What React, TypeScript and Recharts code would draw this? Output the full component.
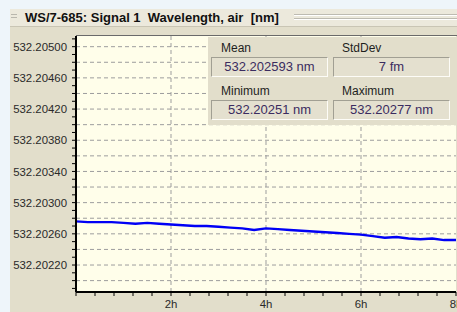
import React from 'react';
import { LineChart, Line, XAxis, YAxis, CartesianGrid } from 'recharts';

// elapsed time in hours
const hours = [
  0, 0.25, 0.5, 0.75, 1, 1.25, 1.5, 1.75, 2, 2.25, 2.5, 2.75, 3, 3.25, 3.5, 3.75, 4,
  4.25, 4.5, 4.75, 5, 5.25, 5.5, 5.75, 6, 6.25, 6.5, 6.75, 7, 7.25, 7.5, 7.75, 8,
];

// wavelength, air [nm]
const wavelength = [
  532.20276, 532.20275, 532.20275, 532.20275, 532.20274, 532.20273, 532.20274, 532.20273,
  532.20272, 532.20271, 532.20270, 532.20270, 532.20269, 532.20268, 532.20267, 532.20265,
  532.20267, 532.20266, 532.20265, 532.20264, 532.20263, 532.20262, 532.20261, 532.2026,
  532.20259, 532.20257, 532.20255, 532.20256, 532.20254, 532.20253, 532.20254, 532.20252,
  532.20252,
];

const yTicks = [
  532.2019, 532.202, 532.2021, 532.2022, 532.2023, 532.2024, 532.2025, 532.2026, 532.2027,
  532.2028, 532.2029, 532.203, 532.2031, 532.2032, 532.2033, 532.2034, 532.2035, 532.2036,
  532.2037, 532.2038, 532.2039, 532.204, 532.2041, 532.2042, 532.2043, 532.2044, 532.2045,
  532.2046, 532.2047, 532.2048, 532.2049, 532.205, 532.2051,
];
const yLabels = [
  '532.20220', '532.20260', '532.20300', '532.20340', '532.20380', '532.20420', '532.20460',
  '532.20500',
];
const yGrid = [
  532.202, 532.2022, 532.2024, 532.2026, 532.2028, 532.203, 532.2032, 532.2034, 532.2036,
  532.2038, 532.204, 532.2042, 532.2044, 532.2046, 532.2048, 532.205,
];

const xTicks = [
  0, 0.4, 0.8, 1.2, 1.6, 2, 2.4, 2.8, 3.2, 3.6, 4, 4.4, 4.8, 5.2, 5.6, 6, 6.4, 6.8, 7.2, 7.6, 8,
];
const xLabels: Record<string, string> = { '2': '2h', '4': '4h', '6': '6h', '8': '8h' };
const xGrid = [2, 4, 6];

const stats = [
  { name: 'Mean', value: '532.202593 nm' },
  { name: 'StdDev', value: '7 fm' },
  { name: 'Minimum', value: '532.20251 nm' },
  { name: 'Maximum', value: '532.20277 nm' },
];

const data = hours.map((t, i) => ({ t, wl: wavelength[i] }));

const FONT = '"Liberation Sans", Arial, sans-serif';

const YTick = ({ x, y, payload }: any) => {
  const label = payload.value.toFixed(5);
  if (!yLabels.includes(label)) return null;
  return (
    <text x={x} y={y} dy="0.36em" textAnchor="end" fontSize={11.4} fontFamily={FONT} fill="#2a2a2a">
      {label}
    </text>
  );
};

const XTick = ({ x, y, payload }: any) => {
  const label = xLabels[String(payload.value)];
  if (!label) return null;
  return (
    <text x={x} y={y} dy="0.71em" textAnchor="middle" fontSize={11.4} fontFamily={FONT} fill="#2a2a2a">
      {label}
    </text>
  );
};

const sunken: React.CSSProperties = {
  position: 'absolute',
  height: 20,
  width: 117,
  boxSizing: 'border-box',
  borderTop: '1px solid #a19f93',
  borderLeft: '1px solid #a19f93',
  borderBottom: '1px solid #fdfcf7',
  borderRight: '1px solid #fdfcf7',
  background: '#e4e0cf',
  textAlign: 'center',
  fontFamily: FONT,
  fontSize: 13,
  lineHeight: '18px',
  color: '#3b2c60',
};

export default function App() {
  return (
    <div
      style={{
        position: 'absolute',
        left: 0,
        top: 0,
        width: 457,
        height: 312,
        overflow: 'hidden',
        background: '#eef5fa',
      }}
    >
      {/* window panel */}
      <div style={{ position: 'absolute', left: 10, top: 9, width: 447, height: 303, background: '#e2decb' }} />
      {/* title bar */}
      <div
        style={{
          position: 'absolute',
          left: 10,
          top: 9,
          width: 447,
          height: 17,
          background: '#ece9dc',
          borderBottom: '1px solid #c9c5b4',
        }}
      />
      <div style={{ position: 'absolute', left: 11, top: 14, width: 6, height: 1, background: '#b9b7ad' }} />
      <div style={{ position: 'absolute', left: 11, top: 17, width: 6, height: 1, background: '#b9b7ad' }} />
      <div style={{ position: 'absolute', left: 294, top: 14, width: 163, height: 1, background: '#bdbbb1' }} />
      <div style={{ position: 'absolute', left: 294, top: 15, width: 163, height: 1, background: '#ffffff' }} />
      <div style={{ position: 'absolute', left: 294, top: 18, width: 163, height: 1, background: '#bdbbb1' }} />
      <div style={{ position: 'absolute', left: 294, top: 19, width: 163, height: 1, background: '#ffffff' }} />
      <div
        style={{
          position: 'absolute',
          left: 25,
          top: 9,
          height: 17,
          lineHeight: '17px',
          fontFamily: FONT,
          fontWeight: 'bold',
          fontSize: 13,
          color: '#111',
          whiteSpace: 'pre',
        }}
      >
        {'WS/7-685: Signal 1  Wavelength, air  [nm]'}
      </div>

      <div style={{ position: 'absolute', left: 0, top: 0 }}>
        <LineChart width={457} height={312} data={data} margin={{ top: 36, right: 1, bottom: 0, left: 10 }}>
          <CartesianGrid
            fill="#fffeea"
            stroke="#9d9d9d"
            strokeDasharray="4 3"
            horizontalValues={yGrid}
            verticalValues={xGrid}
          />
          <XAxis
            dataKey="t"
            type="number"
            domain={[0, 8]}
            ticks={xTicks}
            interval={0}
            height={20}
            tickSize={4}
            tickMargin={4}
            axisLine={{ stroke: '#000', strokeWidth: 2 }}
            tickLine={{ stroke: '#000' }}
            tick={<XTick />}
          />
          <YAxis
            type="number"
            domain={[532.201854, 532.205137]}
            ticks={yTicks}
            interval={0}
            width={66}
            tickSize={4}
            tickMargin={5}
            allowDataOverflow
            axisLine={{ stroke: '#000', strokeWidth: 2 }}
            tickLine={{ stroke: '#000' }}
            tick={<YTick />}
          />
          <Line
            type="linear"
            dataKey="wl"
            stroke="#0000f5"
            strokeWidth={2.4}
            dot={false}
            isAnimationActive={false}
          />
        </LineChart>
      </div>

      {/* plot frame top edge */}
      <div style={{ position: 'absolute', left: 76, top: 35, width: 381, height: 1, background: '#6a6a6a' }} />

      {/* statistics box */}
      <div style={{ position: 'absolute', left: 208, top: 37, width: 249, height: 88, background: '#e2decb' }}>
        {stats.map((s, i) => {
          const col = i % 2;
          const row = Math.floor(i / 2);
          return (
            <React.Fragment key={s.name}>
              <div
                style={{
                  position: 'absolute',
                  left: 13 + col * 121,
                  top: 4 + row * 43,
                  fontFamily: FONT,
                  fontSize: 12,
                  lineHeight: '14px',
                  color: '#1e1e1e',
                }}
              >
                {s.name}
              </div>
              <div style={{ ...sunken, left: 3 + col * 122, top: 20 + row * 43 }}>{s.value}</div>
            </React.Fragment>
          );
        })}
      </div>
    </div>
  );
}
